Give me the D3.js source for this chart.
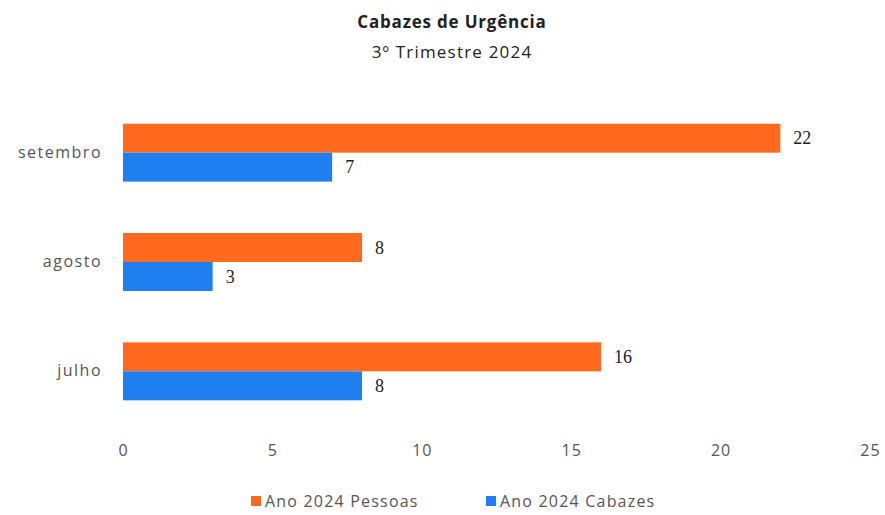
<!DOCTYPE html>
<html>
<head>
<meta charset="utf-8">
<script src="https://cdn.jsdelivr.net/npm/d3@7"></script>
<style>
  body { margin: 0; background: #fff; }
  text { font-family: "Open Sans", "Noto Sans", sans-serif; }
</style>
</head>
<body>
<div id="chart"></div>
<script>
// Chart data
var months = ["setembro", "agosto", "julho"];
var pessoas = [22, 8, 16];
var cabazes = [7, 3, 8];
var seriesNames = ["Ano 2024 Pessoas", "Ano 2024 Cabazes"];
var xTicks = [0, 5, 10, 15, 20, 25];

var w = 885, h = 515;
var colors = ["#ff6a1f", "#1f7ef0"];

var svg = d3.select("#chart").append("svg")
    .attr("width", w)
    .attr("height", h);

// Title
svg.append("text")
   .attr("x", 452).attr("y", 28)
   .attr("text-anchor", "middle")
   .attr("font-size", 17).attr("font-weight", "bold")
   .attr("letter-spacing", "0.8px")
   .attr("fill", "#222")
   .text("Cabazes de Urgência");
svg.append("text")
   .attr("x", 452).attr("y", 58)
   .attr("text-anchor", "middle")
   .attr("font-size", 17)
   .attr("letter-spacing", "1.2px")
   .attr("fill", "#222")
   .text("3º Trimestre 2024");

// Scales
var xScale = d3.scaleLinear().domain([0, 25]).range([123, 870]);
var yScale = d3.scaleBand().domain(months).range([98, 426]).paddingInner(0.47).paddingOuter(0.235);
var inner = d3.scaleBand().domain([0, 1]).range([0, yScale.bandwidth()]);

var rows = months.map(function(m, i) {
    return { month: m, values: [pessoas[i], cabazes[i]] };
});

var groups = svg.selectAll("g.row")
    .data(rows)
    .enter().append("g")
    .attr("class", "row")
    .attr("transform", d => `translate(0, ${yScale(d.month)})`);

groups.selectAll("rect")
    .data(d => d.values)
    .enter().append("rect")
    .attr("x", xScale(0))
    .attr("y", (d, i) => inner(i))
    .attr("width", d => xScale(d) - xScale(0))
    .attr("height", inner.bandwidth())
    .attr("fill", (d, i) => colors[i]);

// value labels (look serif in the scan)
groups.selectAll("text.val")
    .data(d => d.values)
    .enter().append("text")
    .attr("class", "val")
    .attr("x", d => xScale(d) + 13)
    .attr("y", (d, i) => inner(i) + inner.bandwidth() / 2)
    .attr("dy", "0.35em")
    .attr("font-size", 18)
    .style("font-family", "'Liberation Serif', serif")
    .attr("fill", "#222")
    .text(d => d);

// Y axis (category labels only)
var yAxis = svg.append("g")
   .attr("transform", `translate(${xScale(0)}, 0)`)
   .call(d3.axisLeft(yScale).tickSize(0).tickPadding(21));
yAxis.select(".domain").remove();
yAxis.selectAll("text")
   .attr("font-size", 16)
   .attr("letter-spacing", "1.5px")
   .attr("fill", "#555");

// X axis
var xAxis = svg.append("g")
   .attr("transform", "translate(0, 441)")
   .call(d3.axisBottom(xScale).tickValues(xTicks).tickSize(0).tickPadding(4));
xAxis.select(".domain").remove();
xAxis.selectAll("text")
   .attr("font-size", 16)
   .attr("letter-spacing", "1px")
   .attr("fill", "#555");

// Legend
var legendX = [251, 486];
var legend = svg.selectAll("g.legend")
    .data(seriesNames)
    .enter().append("g")
    .attr("class", "legend")
    .attr("transform", (d, i) => `translate(${legendX[i]}, 507)`);
legend.append("rect")
    .attr("x", 0).attr("y", -11)
    .attr("width", 10).attr("height", 10)
    .attr("fill", (d, i) => colors[i]);
legend.append("text")
    .attr("x", 14).attr("y", 0)
    .attr("font-size", 16)
    .attr("letter-spacing", "1.2px")
    .attr("fill", "#555")
    .text(d => d);
</script>
</body>
</html>
